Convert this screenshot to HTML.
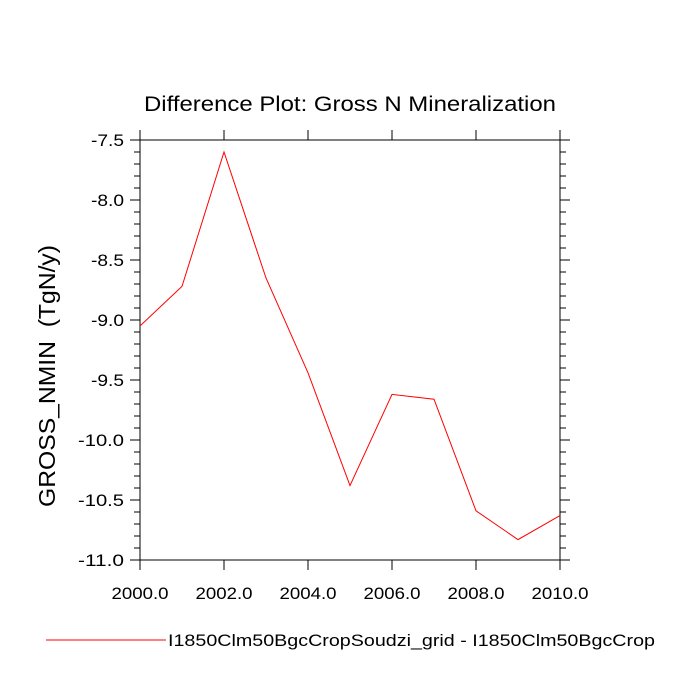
<!DOCTYPE html>
<html><head><meta charset="utf-8"><style>body{margin:0;background:#fff}svg{display:block}</style></head>
<body>
<svg id="chart" width="700" height="700" xmlns="http://www.w3.org/2000/svg" font-family="'Liberation Sans', sans-serif">
<text x="350" y="111" text-anchor="middle" font-size="21" textLength="412" lengthAdjust="spacingAndGlyphs">Difference Plot: Gross N Mineralization</text>
<text transform="translate(55,376) rotate(-90)" text-anchor="middle" font-size="23" style="white-space:pre" textLength="262" lengthAdjust="spacingAndGlyphs">GROSS_NMIN  (TgN/y)</text>
<g id="axes"></g>
<g id="series"></g>
<line x1="46" y1="640" x2="166" y2="640" stroke="#ff0000" stroke-width="1"/>
<text x="168" y="646" font-size="17" textLength="487" lengthAdjust="spacingAndGlyphs">I1850Clm50BgcCropSoudzi_grid - I1850Clm50BgcCrop</text>
</svg>
<script>
const years = [2000,2001,2002,2003,2004,2005,2006,2007,2008,2009,2010];
const values = [-9.05,-8.72,-7.6,-8.65,-9.44,-10.38,-9.62,-9.66,-10.59,-10.83,-10.63];
const yTicks = [-7.5,-8.0,-8.5,-9.0,-9.5,-10.0,-10.5,-11.0];
const xTicks = [2000,2002,2004,2006,2008,2010];
const L=140,R=560,T=140,B=560;
const xs = v => L + (v-2000)/10*(R-L);
const ys = v => T + (-7.5 - v)/3.5*(B-T);
const NS="http://www.w3.org/2000/svg";
const ax=document.getElementById('axes');
function mk(tag,attrs,parent){const e=document.createElementNS(NS,tag);for(const k in attrs)e.setAttribute(k,attrs[k]);parent.appendChild(e);return e;}
const frame=mk('rect',{x:L,y:T,width:R-L,height:B-T,fill:'none',stroke:'#000','stroke-width':1},ax);


for(let i=0;i<=35;i++){
  const v=-7.5-i*0.1, y=ys(v), major=i%5===0, len=major?10:6;
  const a=mk('line',{x1:L-len,y1:y,x2:L,y2:y,stroke:'#000','stroke-width':1},ax);
  
  
  const b=mk('line',{x1:R,y1:y,x2:R+len,y2:y,stroke:'#000','stroke-width':1},ax);
  
  
}
yTicks.forEach(v=>{
  const t=mk('text',{x:L-16,y:ys(v)+6,'text-anchor':'end','font-size':17,textLength:v<=-10?46:33,lengthAdjust:'spacingAndGlyphs'},ax);
  t.textContent=v.toFixed(1);
  
  
});
xTicks.forEach(v=>{
  const x=xs(v);
  const a=mk('line',{x1:x,y1:B,x2:x,y2:B+10,stroke:'#000','stroke-width':1},ax);
  
  
  const b=mk('line',{x1:x,y1:T-10,x2:x,y2:T,stroke:'#000','stroke-width':1},ax);
  
  
  const t=mk('text',{x:x,y:B+39,'text-anchor':'middle','font-size':17,textLength:57,lengthAdjust:'spacingAndGlyphs'},ax);
  t.textContent=v.toFixed(1);
  
  
});
const p=mk('polyline',{points:years.map((y,i)=>xs(y)+','+ys(values[i])).join(' '),fill:'none',stroke:'#ff0000','stroke-width':1},document.getElementById('series'));


</script>
</body></html>
